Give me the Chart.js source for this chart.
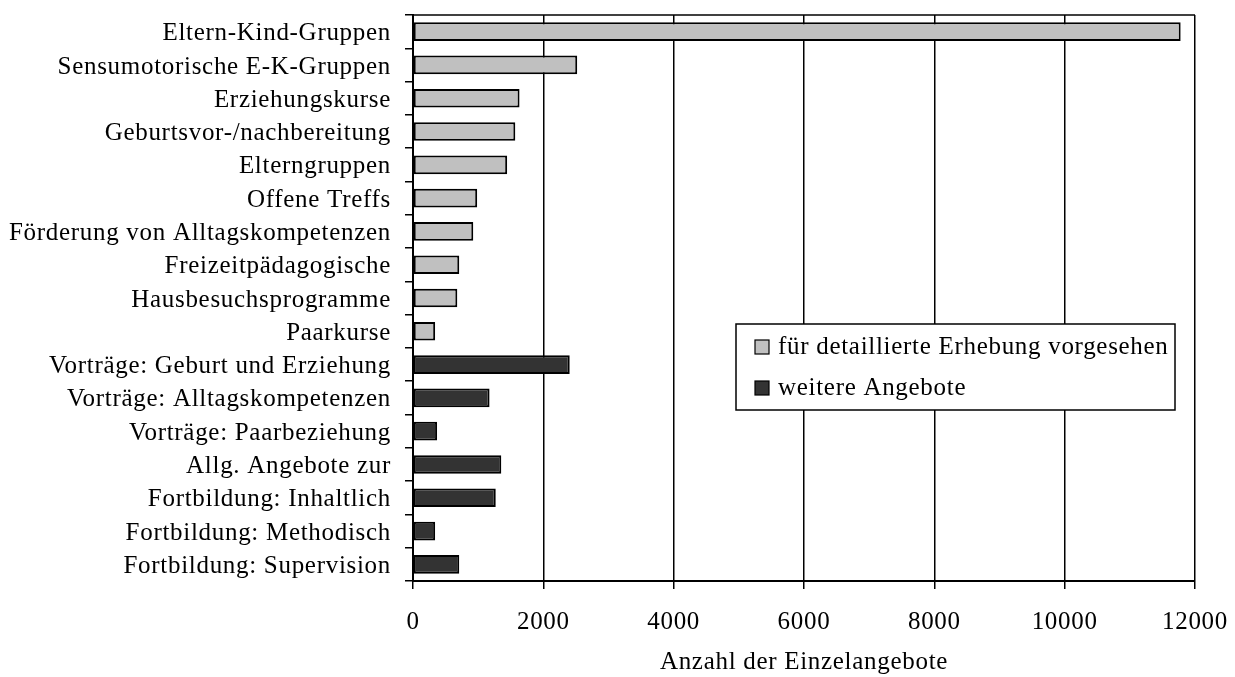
<!DOCTYPE html>
<html>
<head>
<meta charset="utf-8">
<script src="https://cdn.jsdelivr.net/npm/chart.js@4/dist/chart.umd.min.js"></script>
<style>
  html, body { margin: 0; padding: 0; background: #ffffff; }
  #wrap { width: 1235px; height: 677px; }
</style>
</head>
<body>
<div id="wrap"><canvas id="chart" width="1235" height="677"></canvas></div>
<script>
// Angebote der Familienbildung - Anzahl der Einzelangebote

const categories = [
    'Eltern-Kind-Gruppen',
    'Sensumotorische E-K-Gruppen',
    'Erziehungskurse',
    'Geburtsvor-/nachbereitung',
    'Elterngruppen',
    'Offene Treffs',
    'Förderung von Alltagskompetenzen',
    'Freizeitpädagogische',
    'Hausbesuchsprogramme',
    'Paarkurse',
    'Vorträge: Geburt und Erziehung',
    'Vorträge: Alltagskompetenzen',
    'Vorträge: Paarbeziehung',
    'Allg. Angebote zur',
    'Fortbildung: Inhaltlich',
    'Fortbildung: Methodisch',
    'Fortbildung: Supervision'
];

// für detaillierte Erhebung vorgesehen
const detailValues = [11780, 2520, 1635, 1570, 1445, 985, 925, 710, 680, 340,
    null, null, null, null, null, null, null];

// weitere Angebote
const weitereValues = [null, null, null, null, null, null, null, null, null, null,
    2405, 1175, 370, 1355, 1270, 340, 710];

const xTicks = [0, 2000, 4000, 6000, 8000, 10000, 12000];

const fontFamily = '"Liberation Serif", "Times New Roman", serif';
const fontSize = 25;
const spacing = '0.7px';
const lightGray = '#c0c0c0';
const darkGray = '#333333';

// the old PDF text is a bit spread out
const letterSpacing = {
    id: 'letterSpacing',
    beforeDraw(chart) {
        chart.ctx.letterSpacing = spacing;
    }
};

// Legend box inside the plot area
const boxLegend = {
    id: 'boxLegend',
    afterDraw(chart) {
        const ctx = chart.ctx;
        const x0 = 736, y0 = 324, w = 439, h = 86;
        ctx.save();
        ctx.fillStyle = '#ffffff';
        ctx.fillRect(x0, y0, w, h);
        ctx.strokeStyle = '#000000';
        ctx.lineWidth = 1.5;
        ctx.strokeRect(x0, y0, w, h);
        ctx.font = fontSize + 'px ' + fontFamily;
        ctx.letterSpacing = spacing;
        ctx.textBaseline = 'middle';
        chart.data.datasets.forEach((ds, i) => {
            const cy = y0 + 23 + i * 41;
            ctx.fillStyle = ds.backgroundColor;
            ctx.fillRect(755, cy - 7, 14, 14);
            ctx.lineWidth = 1.2;
            ctx.strokeRect(755, cy - 7, 14, 14);
            ctx.fillStyle = '#000000';
            ctx.fillText(ds.label, 778, cy);
        });
        ctx.restore();
    }
};

// Top line of the plot frame
const plotFrame = {
    id: 'plotFrame',
    afterDatasetsDraw(chart) {
        const a = chart.chartArea;
        const ctx = chart.ctx;
        ctx.save();
        ctx.strokeStyle = '#000000';
        ctx.lineWidth = 1.5;
        ctx.beginPath();
        ctx.moveTo(a.left, a.top);
        ctx.lineTo(a.right, a.top);
        ctx.stroke();
        ctx.restore();
    }
};

const ctx = document.getElementById('chart').getContext('2d');
new Chart(ctx, {
    type: 'bar',
    data: {
        labels: categories,
        datasets: [{
            label: 'für detaillierte Erhebung vorgesehen',
            data: detailValues,
            backgroundColor: lightGray,
            borderColor: '#000000',
            borderWidth: 2,
            borderSkipped: false,
            categoryPercentage: 1,
            barPercentage: 0.56
        }, {
            label: 'weitere Angebote',
            data: weitereValues,
            backgroundColor: darkGray,
            borderColor: '#000000',
            borderWidth: 2,
            borderSkipped: false,
            categoryPercentage: 1,
            barPercentage: 0.56
        }]
    },
    options: {
        indexAxis: 'y',
        responsive: false,
        animation: false,
        layout: {
            padding: { top: 15, right: 40, left: 0, bottom: 0 }
        },
        plugins: {
            legend: { display: false },
            tooltip: { enabled: false }
        },
        scales: {
            x: {
                min: 0,
                max: 12000,
                afterBuildTicks: (scale) => {
                    scale.ticks = xTicks.map(v => ({ value: v }));
                },
                afterFit: (scale) => {
                    scale.height = 96;
                    scale.paddingLeft = 0;
                    scale.paddingRight = 0;
                },
                ticks: {
                    color: '#000000',
                    font: { family: fontFamily, size: fontSize },
                    padding: 18,
                    maxRotation: 0,
                    callback: (value) => String(value)
                },
                grid: {
                    color: '#000000',
                    lineWidth: 1.5,
                    tickLength: 8
                },
                border: { color: '#000000', width: 2 },
                title: {
                    display: true,
                    text: 'Anzahl der Einzelangebote',
                    color: '#000000',
                    font: { family: fontFamily, size: fontSize },
                    padding: { top: 10, bottom: 0 }
                }
            },
            y: {
                stacked: true,
                afterFit: (scale) => {
                    scale.width = 413;
                    scale.paddingTop = 0;
                    scale.paddingBottom = 0;
                },
                ticks: {
                    color: '#000000',
                    font: { family: fontFamily, size: fontSize },
                    padding: 14,
                    labelOffset: 2,
                    autoSkip: false
                },
                grid: {
                    offset: true,
                    drawOnChartArea: false,
                    color: '#000000',
                    lineWidth: 1.5,
                    tickLength: 8
                },
                border: { color: '#000000', width: 2 }
            }
        }
    },
    plugins: [letterSpacing, plotFrame, boxLegend]
});
</script>
</body>
</html>
